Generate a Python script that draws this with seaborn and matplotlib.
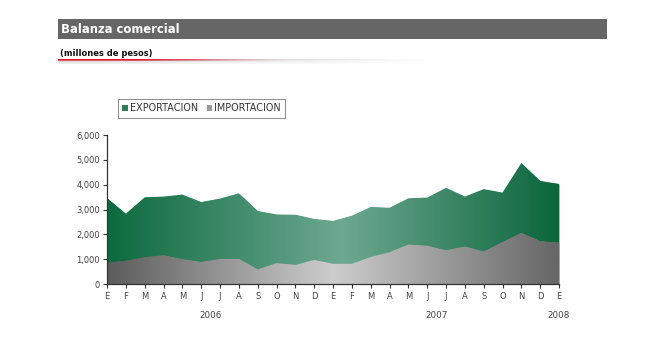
import numpy as np
import pandas as pd
import matplotlib
matplotlib.use("Agg")
import matplotlib.pyplot as plt
from matplotlib.colors import LinearSegmentedColormap
from matplotlib.patches import Rectangle, Patch
import seaborn as sns

# ---- data ----
month_labels = ["E", "F", "M", "A", "M", "J", "J", "A", "S", "O", "N", "D",
                "E", "F", "M", "A", "M", "J", "J", "A", "S", "O", "N", "D", "E"]
exportacion = [3460, 2830, 3490, 3520, 3600, 3300, 3440, 3650, 2940, 2800, 2790, 2620,
               2540, 2750, 3100, 3070, 3450, 3480, 3870, 3520, 3820, 3680, 4870, 4150, 4030]
importacion = [860, 940, 1080, 1160, 1000, 890, 1010, 1010, 590, 840, 770, 970,
               815, 815, 1090, 1280, 1590, 1540, 1360, 1510, 1310, 1690, 2060, 1730, 1670]
year_labels = ["2006", "2007", "2008"]
year_positions = [5.5, 17.5, 24]
y_ticks = [0, 1000, 2000, 3000, 4000, 5000, 6000]

df = pd.DataFrame({"idx": np.arange(len(month_labels)),
                   "EXPORTACION": exportacion,
                   "IMPORTACION": importacion})

sns.set_theme(style="white")
plt.rcParams["font.family"] = ["DejaVu Sans"]

fig = plt.figure(figsize=(6.6, 3.4), dpi=100)
W, H = 660, 340

# ---- header bar ----
fig.patches.append(Rectangle((58 / W, 1 - 39 / H), (607 - 58) / W, 20 / H,
                             transform=fig.transFigure, facecolor="#666666",
                             edgecolor="none", zorder=0))
fig.text(61 / W, 1 - 29.5 / H, "Balanza comercial", color="white",
         fontsize=8.4, fontweight="bold", va="center", ha="left")
fig.text(60 / W, 1 - 53 / H, "(millones de pesos)", color="#111111",
         fontsize=6, fontweight="bold", va="center", ha="left")

# red underline fading into gray
lax = fig.add_axes([58 / W, 1 - 64 / H, (435 - 58) / W, 5 / H])
n = 377
t = np.linspace(0, 1, n)
img = np.ones((5, n, 4))
red = np.array([0.86, 0.10, 0.20])
gray = np.array([0.80, 0.80, 0.80])
for r in range(5):
    if r <= 1:
        mix = np.clip((t - 0.2) / 0.4, 0, 1)[:, None]
        col = red * (1 - mix) + gray * mix
        alpha = np.clip(1 - (t - 0.35) / 0.65, 0, 1) * (1.0 if r == 0 else 0.75)
    else:
        col = np.tile(gray, (n, 1))
        alpha = np.clip(1 - t, 0, 1) * (0.7 - 0.18 * (r - 2))
    img[r, :, :3] = col
    img[r, :, 3] = alpha
lax.imshow(img, aspect="auto", interpolation="nearest")
lax.axis("off")

# ---- main axes ----
ax = fig.add_axes([107 / W, 1 - 284 / H, (559 - 107) / W, (284 - 135) / H])
x = df["idx"].to_numpy()
xmax = len(x) - 1

exp_cmap = LinearSegmentedColormap.from_list(
    "exp", [(0, "#0c6a3e"), (0.52, "#6da892"), (1, "#0b663b")])
imp_cmap = LinearSegmentedColormap.from_list(
    "imp", [(0, "#5c5c5c"), (0.5, "#cdcdcd"), (1, "#666666")])
grad = np.linspace(0, 1, 512)[None, :]

poly_e = ax.fill_between(x, 0, df["EXPORTACION"], color="#3d8a67", lw=0, zorder=1)
im_e = ax.imshow(grad, cmap=exp_cmap, aspect="auto", extent=[0, xmax, 0, 6000],
                 zorder=1.5, interpolation="bilinear")
im_e.set_clip_path(poly_e.get_paths()[0], transform=ax.transData)

poly_i = ax.fill_between(x, 0, df["IMPORTACION"], color="#999999", lw=0, zorder=2)
im_i = ax.imshow(grad, cmap=imp_cmap, aspect="auto", extent=[0, xmax, 0, 6000],
                 zorder=2.5, interpolation="bilinear")
im_i.set_clip_path(poly_i.get_paths()[0], transform=ax.transData)

sns.lineplot(data=df, x="idx", y="EXPORTACION", ax=ax, lw=0, legend=False)

ax.set_xlim(0, xmax)
ax.set_ylim(0, 6000)
ax.set_xticks(x)
ax.set_xticklabels(month_labels)
ax.set_yticks(y_ticks)
ax.set_yticklabels([f"{v:,}" for v in y_ticks])
ax.set_xlabel("")
ax.set_ylabel("")
for s in ["top", "right"]:
    ax.spines[s].set_visible(False)
for s in ["left", "bottom"]:
    ax.spines[s].set_color("#333333")
    ax.spines[s].set_linewidth(0.9)
    ax.spines[s].set_zorder(5)
ax.tick_params(axis="both", which="both", length=3, width=0.8, color="#333333",
               labelsize=6, labelcolor="#444444", bottom=True, left=True)
ax.tick_params(axis="x", pad=3)
ax.tick_params(axis="y", pad=2)
ax.set_facecolor("none")

for lab, pos in zip(year_labels, year_positions):
    ax.text(pos, -1250, lab, ha="center", va="center", fontsize=6.3,
            color="#444444", transform=ax.transData, clip_on=False)

handles = [Patch(facecolor="#2f7d58", edgecolor="none", label="EXPORTACION"),
           Patch(facecolor="#9a9a9a", edgecolor="none", label="IMPORTACION")]
leg = fig.legend(handles=handles, loc="upper left",
                 bbox_to_anchor=(118 / W, 1 - 99 / H), ncol=2, frameon=True,
                 fancybox=False, fontsize=6.9, handlelength=0.6, handleheight=0.6,
                 handletextpad=0.2, columnspacing=0.9, borderpad=0.45,
                 borderaxespad=0)
leg.get_frame().set_edgecolor("#777777")
leg.get_frame().set_linewidth(0.8)
for txt in leg.get_texts():
    txt.set_color("#333333")

fig.savefig("out.png", dpi=100)
